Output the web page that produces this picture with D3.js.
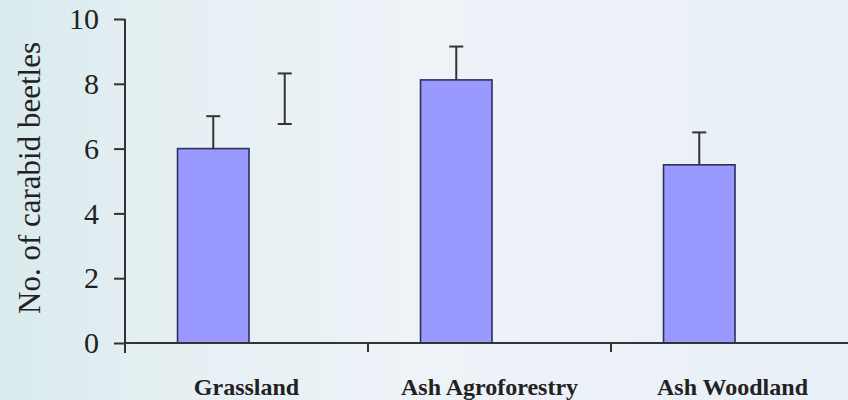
<!DOCTYPE html>
<html>
<head>
<meta charset="utf-8">
<script src="https://cdn.jsdelivr.net/npm/d3@7"></script>
<style>
  html, body { margin: 0; padding: 0; overflow: hidden; }
  svg { display: block; }
</style>
</head>
<body>
<div id="chart"></div>
<script>
// categories along the x axis
const categories = ["Grassland", "Ash Agroforestry", "Ash Woodland"];
// two series per category; the second one has no visible bar
const seriesNames = ["Mean", "Other"];
const meanValues = [6.0, 8.12, 5.5];
const meanErrors = [1.0, 1.03, 1.0];
const otherValues = [7.54, null, null];
const otherErrors = [0.78, null, null];
const yTicks = [0, 2, 4, 6, 8, 10];
const yLabel = "No. of carabid beetles";

const width = 848, height = 400;

const svg = d3.select("#chart").append("svg")
    .attr("width", width)
    .attr("height", height);

// background wash
const defs = svg.append("defs");
const grad = defs.append("linearGradient")
    .attr("id", "bg")
    .attr("x1", "0%").attr("x2", "100%")
    .attr("y1", "0%").attr("y2", "0%");
grad.append("stop").attr("offset", "0%").attr("stop-color", "#d9eaed");
grad.append("stop").attr("offset", "16%").attr("stop-color", "#e4eff2");
grad.append("stop").attr("offset", "50%").attr("stop-color", "#eef3f8");
grad.append("stop").attr("offset", "100%").attr("stop-color", "#e8eff6");
svg.append("rect")
    .attr("width", width).attr("height", height)
    .attr("fill", "url(#bg)");

// scales
const x = d3.scaleBand()
    .domain(categories)
    .range([125, 854])
    .paddingInner(0)
    .paddingOuter(0);

const xSeries = d3.scaleBand()
    .domain(seriesNames)
    .range([2.5, x.bandwidth() + 2.5])
    .paddingInner(0)
    .paddingOuter(0.7);

const y = d3.scaleLinear()
    .domain([0, 10])
    .range([343, 19]);

const rows = categories.map((c, i) => ({
    category: c,
    values: [
        { series: "Mean", value: meanValues[i], error: meanErrors[i] },
        { series: "Other", value: otherValues[i], error: otherErrors[i] }
    ]
}));

const lineColor = "#333333";

// error bars (drawn before bars so the lower half hides behind the bar)
const errG = svg.append("g")
    .attr("stroke", lineColor)
    .attr("stroke-width", 2);

rows.forEach(r => {
    r.values.forEach(v => {
        if (v.value == null) return;
        const cx = x(r.category) + xSeries(v.series) + xSeries.bandwidth() / 2;
        const hi = y(v.value + v.error), lo = y(v.value - v.error);
        errG.append("line").attr("x1", cx).attr("x2", cx).attr("y1", hi).attr("y2", lo);
        errG.append("line").attr("x1", cx - 7).attr("x2", cx + 7).attr("y1", hi).attr("y2", hi);
        errG.append("line").attr("x1", cx - 7).attr("x2", cx + 7).attr("y1", lo).attr("y2", lo);
    });
});

// bars (only the first series is filled)
svg.append("g")
    .selectAll("rect")
    .data(rows)
    .enter()
    .append("rect")
    .attr("x", d => x(d.category) + xSeries("Mean"))
    .attr("y", (d, i) => y(meanValues[i]))
    .attr("width", xSeries.bandwidth())
    .attr("height", (d, i) => y(0) - y(meanValues[i]))
    .attr("fill", "#9999ff")
    .attr("stroke", "#2e2e5c")
    .attr("stroke-width", 1.6);

// y axis
const yAxis = svg.append("g")
    .attr("transform", "translate(125,0)")
    .call(d3.axisLeft(y).tickValues(yTicks).tickSize(11).tickSizeOuter(0).tickPadding(15));
yAxis.select(".domain").remove();
yAxis.selectAll(".tick line").attr("stroke", lineColor).attr("stroke-width", 2);
yAxis.selectAll(".tick text")
    .attr("fill", "#222")
    .style("font-family", "'Liberation Serif', 'DejaVu Serif', serif")
    .style("font-size", "30px");
yAxis.append("line")
    .attr("x1", 0).attr("x2", 0)
    .attr("y1", y(10)).attr("y2", 353)
    .attr("stroke", lineColor).attr("stroke-width", 2);

// x axis
const xAxis = svg.append("g");
xAxis.append("line")
    .attr("x1", 125).attr("x2", width)
    .attr("y1", y(0)).attr("y2", y(0))
    .attr("stroke", lineColor).attr("stroke-width", 2);
xAxis.selectAll("line.tick")
    .data(categories.slice(1))
    .enter()
    .append("line")
    .attr("class", "tick")
    .attr("x1", d => x(d)).attr("x2", d => x(d))
    .attr("y1", y(0)).attr("y2", y(0) + 9)
    .attr("stroke", lineColor).attr("stroke-width", 2);
xAxis.selectAll("text")
    .data(categories)
    .enter()
    .append("text")
    .attr("x", d => x(d) + x.bandwidth() / 2)
    .attr("y", 395)
    .attr("text-anchor", "middle")
    .attr("fill", "#222")
    .style("font-family", "'Liberation Serif', 'DejaVu Serif', serif")
    .style("font-weight", "bold")
    .style("font-size", "24px")
    .text(d => d);

// y axis title
svg.append("text")
    .attr("transform", "translate(40,178) rotate(-90)")
    .attr("text-anchor", "middle")
    .attr("fill", "#222")
    .style("font-family", "'Liberation Serif', 'DejaVu Serif', serif")
    .style("font-size", "31px")
    .text(yLabel);
</script>
</body>
</html>
